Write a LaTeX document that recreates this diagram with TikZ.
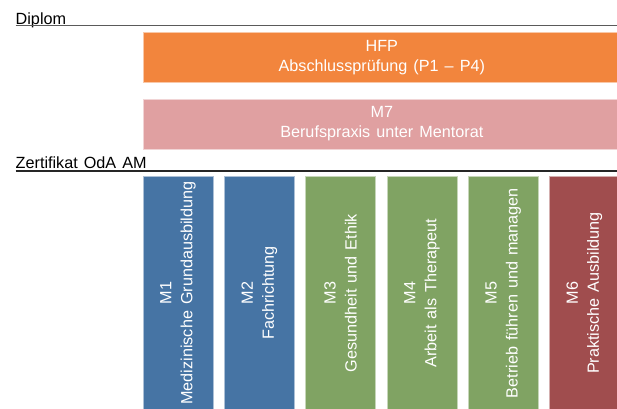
\documentclass[tikz,border=0pt]{standalone}
\usepackage{fontspec}
\setmainfont[WordSpace=1.35]{Liberation Sans}
\usetikzlibrary{positioning}

\definecolor{hfporange}{RGB}{242,133,61}
\definecolor{mentorpink}{RGB}{224,160,161}
\definecolor{modblue}{RGB}{70,116,164}
\definecolor{modgreen}{RGB}{128,163,99}
\definecolor{modred}{RGB}{160,77,78}
\definecolor{rulegray}{RGB}{90,90,90}

\tikzset{
	heading/.style={anchor=base west, inner sep=0pt, font=\fontsize{16.2}{20}\selectfont},
	boxfill/.style={fill=#1, draw=#1!45!white, line width=0.6pt, text=white},
	widebox/.style={boxfill=#1, anchor=north west, inner sep=0pt, minimum width=477pt, minimum height=50pt, align=center, font=\fontsize{16.2}{20}\selectfont},
	module/.style={boxfill=#1, rotate=90, inner sep=0pt, minimum width=234pt, minimum height=70pt, align=center, font=\fontsize{16.2}{21}\selectfont}
}

\begin{document}
\begin{tikzpicture}[x=1pt, y=-1pt]
		%%%%% START %%%%%
		\useasboundingbox (0, 0) rectangle (617, 408);
		\clip (0, 0) rectangle (617, 408);
		
		% Diplom
		\node[heading] (diplom) at (15.5, 24) {Diplom};
		\coordinate (diplom end) at (620, 25.7);
		\draw[rulegray, line width=1pt] ([yshift=-1.7pt]diplom.base west) -- (diplom end);
		
		\node[widebox=hfporange] (hfp) at (143, 32) {HFP\\Abschlussprüfung (P1 – P4)};
		\node[widebox=mentorpink] (m7) at (143, 98.5) {M7\\Berufspraxis unter Mentorat};
		
		% Zertifikat
		\node[heading] (zert) at (15.5, 168.3) {Zertifikat OdA AM};
		\coordinate (zert end) at (620, 170.6);
		\draw[black!85, line width=1.8pt] ([yshift=-2.3pt]zert.base west) -- (zert end);
		
		\node[module=modblue] (m1) at (178, 293) {M1\\Medizinische Grundausbildung};
		\node[module=modblue] (m2) at (259.3, 293) {M2\\Fachrichtung};
		\node[module=modgreen] (m3) at (340.6, 293) {M3\\Gesundheit und Ethik};
		\node[module=modgreen] (m4) at (422, 293) {M4\\Arbeit als Therapeut};
		\node[module=modgreen] (m5) at (503.2, 293) {M5\\Betrieb führen und managen};
		\node[module=modred] (m6) at (584.5, 293) {M6\\Praktische Ausbildung};
		%%%%% END %%%%%
\end{tikzpicture}
\end{document}
